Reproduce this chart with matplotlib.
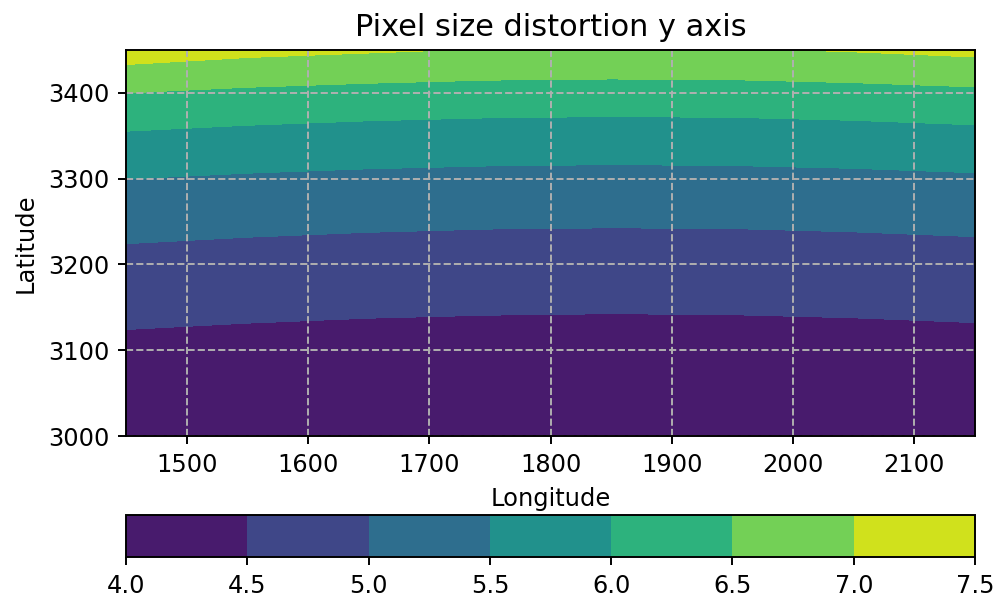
import matplotlib
matplotlib.use("Agg")
import matplotlib.pyplot as plt
import numpy as np

# Longitude / latitude sample positions
lons = [1450, 1550, 1650, 1750, 1850, 1950, 2050, 2150]
lats = [3000, 3050, 3100, 3150, 3200, 3250, 3300, 3350, 3400, 3450]

# Pixel size distortion (y axis), rows = lats, cols = lons
row_3000 = [4.05, 4.03, 4.02, 4.01, 4.01, 4.01, 4.02, 4.03]
row_3050 = [4.211, 4.185, 4.166, 4.155, 4.150, 4.153, 4.165, 4.183]
row_3100 = [4.397, 4.368, 4.346, 4.333, 4.327, 4.331, 4.345, 4.366]
row_3150 = [4.610, 4.577, 4.552, 4.537, 4.530, 4.535, 4.550, 4.574]
row_3200 = [4.858, 4.819, 4.790, 4.772, 4.765, 4.770, 4.788, 4.816]
row_3250 = [5.151, 5.104, 5.070, 5.048, 5.040, 5.045, 5.067, 5.100]
row_3300 = [5.503, 5.446, 5.405, 5.379, 5.368, 5.376, 5.401, 5.442]
row_3350 = [5.940, 5.868, 5.817, 5.785, 5.771, 5.780, 5.812, 5.863]
row_3400 = [6.500, 6.406, 6.340, 6.298, 6.281, 6.292, 6.334, 6.400]
row_3450 = [7.256, 7.126, 7.050, 6.975, 6.955, 6.968, 7.030, 7.117]

levels = [4.0, 4.5, 5.0, 5.5, 6.0, 6.5, 7.0, 7.5]
x_ticks = [1500, 1600, 1700, 1800, 1900, 2000, 2100]
y_ticks = [3000, 3100, 3200, 3300, 3400]

values = np.array([row_3000, row_3050, row_3100, row_3150, row_3200,
                   row_3250, row_3300, row_3350, row_3400, row_3450])

DPI = 174
fig = plt.figure(figsize=(998 / DPI, 604 / DPI), dpi=DPI)
ax = fig.add_axes([0.1263, 0.2781, 0.8507, 0.6391])
cs = ax.contourf(lons, lats, values, levels=levels, cmap="viridis")
ax.set_xlim(1450, 2150)
ax.set_ylim(3000, 3450)
ax.set_xticks(x_ticks)
ax.set_yticks(y_ticks)
ax.grid(True, linestyle="--", color="#b0b0b0", linewidth=0.8)
ax.set_xlabel("Longitude")
ax.set_ylabel("Latitude")
ax.set_title("Pixel size distortion y axis", fontsize=12.6)

cax = fig.add_axes([0.1263, 0.0778, 0.8507, 0.0695])
cb = fig.colorbar(cs, cax=cax, orientation="horizontal")
cb.set_ticks(levels)

fig.savefig("out.png", dpi=DPI)
